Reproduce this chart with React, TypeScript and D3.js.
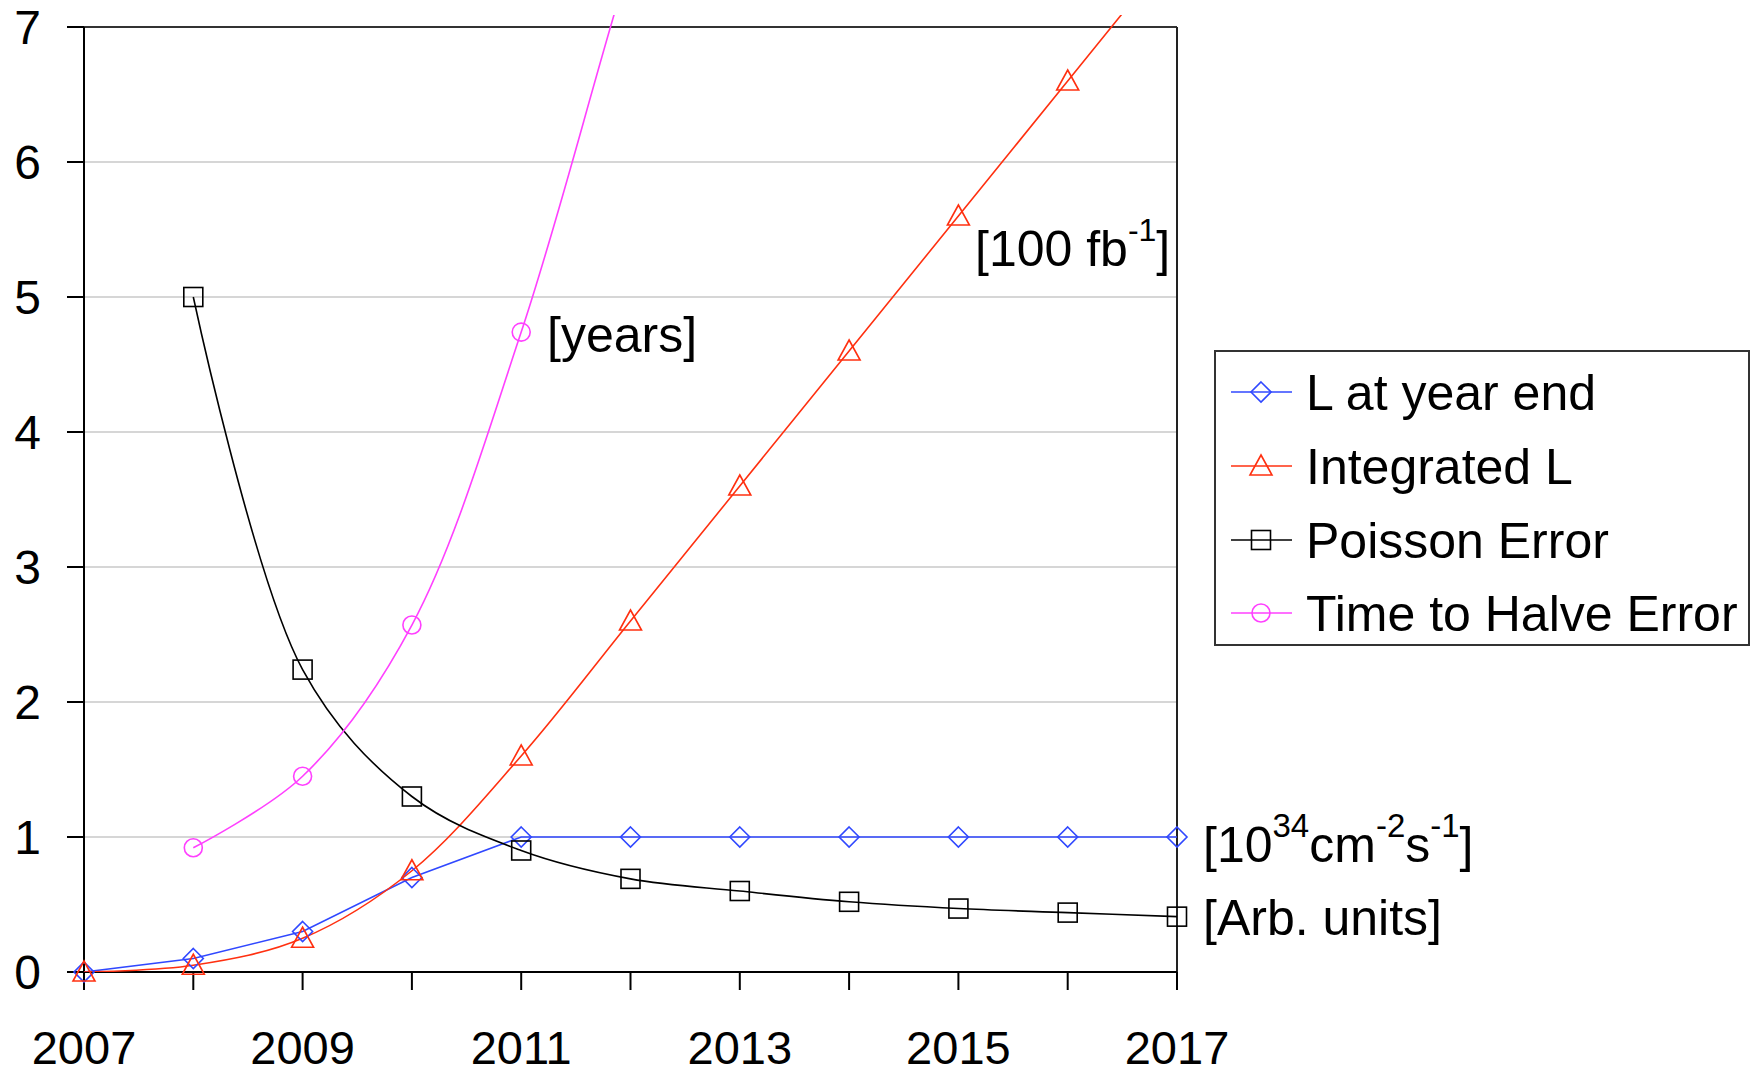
import * as d3 from "d3";
import React from "react";

// Data
const years = [2007, 2008, 2009, 2010, 2011, 2012, 2013, 2014, 2015, 2016, 2017];
const lYearEnd = [0, 0.1, 0.3, 0.7, 1, 1, 1, 1, 1, 1, 1];
const integratedL = [0, 0.05, 0.25, 0.75, 1.6, 2.6, 3.6, 4.6, 5.6, 6.6, 7.6];
const poissonError = [null, 5.0, 2.24, 1.3, 0.9, 0.69, 0.6, 0.52, 0.47, 0.44, 0.41];
const timeToHalve = [null, 0.92, 1.45, 2.57, 4.74, 7.5, 10.0, null, null, null, null];
const yTicks = [0, 1, 2, 3, 4, 5, 6, 7];
const xLabels = [2007, 2009, 2011, 2013, 2015, 2017];

const series = [
  { name: "L at year end", values: lYearEnd, color: "#3048ff", marker: "diamond", smooth: false },
  { name: "Integrated L", values: integratedL, color: "#ff3010", marker: "triangle", smooth: true },
  { name: "Poisson Error", values: poissonError, color: "#000000", marker: "square", smooth: true },
  { name: "Time to Halve Error", values: timeToHalve, color: "#ff40ff", marker: "circle", smooth: true },
];

const W = 1756;
const H = 1073;
const margin = { left: 84, right: 1177, top: 27, bottom: 972 };
const FONT = "Liberation Sans, Arial, sans-serif";

function Marker({ type, x, y, color }: { type: string; x: number; y: number; color: string }) {
  const p = { fill: "none", stroke: color, strokeWidth: 1.6 };
  if (type === "diamond")
    return <path d={`M${x},${y - 10}L${x + 10},${y}L${x},${y + 10}L${x - 10},${y}Z`} {...p} />;
  if (type === "triangle")
    return <path d={`M${x},${y - 11}L${x + 11},${y + 9}L${x - 11},${y + 9}Z`} {...p} />;
  if (type === "square") return <rect x={x - 9.5} y={y - 9.5} width={19} height={19} {...p} />;
  return <circle cx={x} cy={y} r={9} {...p} />;
}

export default function App() {
  const x = d3.scaleLinear().domain([2007, 2017]).range([margin.left, margin.right]);
  const y = d3.scaleLinear().domain([0, 7]).range([margin.bottom, margin.top]);

  const makeLine = (smooth: boolean) =>
    d3
      .line<[number, number | null]>()
      .defined((d) => d[1] != null)
      .x((d) => x(d[0]))
      .y((d) => y(d[1] as number))
      .curve(smooth ? d3.curveCatmullRom.alpha(0.5) : d3.curveLinear);

  const legendRows = [392, 466, 540, 613];

  return (
    <div style={{ position: "absolute", left: 0, top: 0 }}>
      <svg width={W} height={H} style={{ display: "block", background: "#fff" }} fontFamily={FONT}>
        <defs>
          <clipPath id="plotClip">
            <rect x={margin.left} y={margin.top - 12} width={margin.right - margin.left} height={margin.bottom - margin.top + 12} />
          </clipPath>
        </defs>

        {/* gridlines */}
        {yTicks
          .filter((t) => t > 0 && t < 7)
          .map((t) => (
            <line key={t} x1={margin.left} x2={margin.right} y1={y(t)} y2={y(t)} stroke="#c8c8c8" strokeWidth={1.5} />
          ))}

        {/* frame */}
        <line x1={margin.left - 17} x2={margin.right} y1={y(7)} y2={y(7)} stroke="#333" strokeWidth={2} />
        <line x1={margin.right} x2={margin.right} y1={margin.top} y2={margin.bottom + 18} stroke="#222" strokeWidth={2} />
        <line x1={margin.left} x2={margin.left} y1={margin.top} y2={margin.bottom + 18} stroke="#000" strokeWidth={2} />
        <line x1={margin.left - 17} x2={margin.right} y1={margin.bottom} y2={margin.bottom} stroke="#000" strokeWidth={2} />

        {/* y ticks */}
        {yTicks.map((t) => (
          <g key={t}>
            <line x1={margin.left - 17} x2={margin.left} y1={y(t)} y2={y(t)} stroke="#000" strokeWidth={2} />
            <text x={41} y={y(t)} dy="0.36em" textAnchor="end" fontSize={48}>
              {t}
            </text>
          </g>
        ))}

        {/* x ticks */}
        {years.map((yr) => (
          <line key={yr} x1={x(yr)} x2={x(yr)} y1={margin.bottom} y2={margin.bottom + 18} stroke="#000" strokeWidth={2} />
        ))}
        {xLabels.map((yr) => (
          <text key={yr} x={x(yr)} y={1064} textAnchor="middle" fontSize={47}>
            {yr}
          </text>
        ))}

        {/* series lines */}
        <g clipPath="url(#plotClip)">
          {series.map((s) => (
            <path
              key={s.name}
              d={makeLine(s.smooth)(years.map((yr, i) => [yr, s.values[i]]) as [number, number | null][]) || ""}
              fill="none"
              stroke={s.color}
              strokeWidth={1.6}
            />
          ))}
        </g>

        {/* markers */}
        {series.map((s) =>
          years.map((yr, i) => {
            const v = s.values[i];
            if (v == null || v > 7) return null;
            return <Marker key={s.name + yr} type={s.marker} x={x(yr)} y={y(v)} color={s.color} />;
          })
        )}

        {/* annotations */}
        <text x={547} y={352} fontSize={50}>[years]</text>
        <text x={975} y={266} fontSize={50}>
          [100 fb<tspan fontSize={32} dy={-25}>-1</tspan>
          <tspan dy={25}>]</tspan>
        </text>
        <text x={1203} y={862} fontSize={50}>
          [10<tspan fontSize={33} dy={-25}>34</tspan>
          <tspan dy={25}>cm</tspan>
          <tspan fontSize={33} dy={-25}>-2</tspan>
          <tspan dy={25}>s</tspan>
          <tspan fontSize={33} dy={-25}>-1</tspan>
          <tspan dy={25}>]</tspan>
        </text>
        <text x={1203} y={935} fontSize={50}>[Arb. units]</text>

        {/* legend */}
        <rect x={1215} y={351} width={534} height={294} fill="#fff" stroke="#333" strokeWidth={2} />
        {series.map((s, i) => (
          <g key={s.name}>
            <line x1={1231} x2={1292} y1={legendRows[i]} y2={legendRows[i]} stroke={s.color} strokeWidth={1.6} />
            <Marker type={s.marker} x={1261} y={legendRows[i]} color={s.color} />
            <text x={1306} y={legendRows[i]} dy="0.36em" fontSize={50}>
              {s.name}
            </text>
          </g>
        ))}
      </svg>
    </div>
  );
}
